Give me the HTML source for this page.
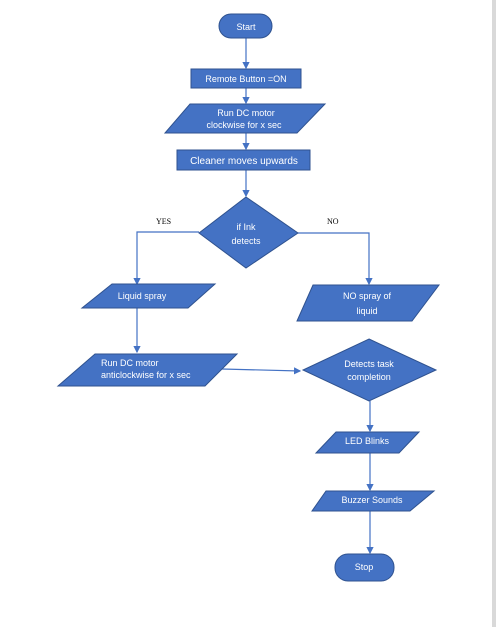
<!DOCTYPE html>
<html><head><style>html,body{margin:0;padding:0;background:#fff;width:496px;height:627px;overflow:hidden}</style></head>
<body>
<svg width="496" height="627" viewBox="0 0 496 627" xmlns="http://www.w3.org/2000/svg" font-family="Liberation Sans, sans-serif">
<defs><marker id="a" markerWidth="6" markerHeight="6" refX="5" refY="3" orient="auto"><path d="M0,0 L6,3 L0,6 z" fill="#4472C4"/></marker></defs>
<rect x="492" y="0" width="4" height="627" fill="#d9d9d9"/>
<g stroke="#4472C4" stroke-width="1.2" fill="none" marker-end="url(#a)">
<line x1="246" y1="38" x2="246" y2="68"/>
<line x1="246" y1="88" x2="246" y2="103"/>
<line x1="246" y1="133" x2="246" y2="149"/>
<line x1="246" y1="170" x2="246" y2="196"/>
<polyline points="199,232 137,232 137,284"/>
<polyline points="298,233 369,233 369,284"/>
<line x1="137" y1="308" x2="137" y2="352"/>
<line x1="222" y1="369" x2="300" y2="371"/>
<line x1="370" y1="401" x2="370" y2="431"/>
<line x1="370" y1="453" x2="370" y2="490"/>
<line x1="370" y1="511" x2="370" y2="553"/>
</g>
<g fill="#4472C4" stroke="#2F528F" stroke-width="1">
<rect x="219" y="14" width="53" height="24" rx="12"/>
<rect x="191" y="69" width="110" height="19"/>
<polygon points="190,104 325,104 297,133 165,133"/>
<rect x="177" y="150" width="133" height="20"/>
<polygon points="246,197 298,233 246,268 199,233"/>
<polygon points="112,284 215,284 188,308 82,308"/>
<polygon points="313,285 439,285 412,321 297,321"/>
<polygon points="95,354 237,354 205,386 58,386"/>
<polygon points="369,339 436,370 369,401 303,370"/>
<polygon points="336,432 419,432 399,453 316,453"/>
<polygon points="326,491 434,491 410,511 312,511"/>
<rect x="335" y="554" width="59" height="27" rx="13"/>
</g>
<g fill="#fff" font-size="9" text-anchor="middle">
<text x="246" y="30">Start</text>
<text x="246" y="82">Remote Button =ON</text>
<text x="246" y="116">Run DC motor</text>
<text x="244" y="128">clockwise for  x  sec</text>
<text x="244" y="164" font-size="10">Cleaner moves upwards</text>
<text x="246" y="230">if Ink</text>
<text x="246" y="244">detects</text>
<text x="142" y="299">Liquid spray</text>
<text x="367" y="299">NO spray of</text>
<text x="367" y="314">liquid</text>
<text x="101" y="366" text-anchor="start">Run DC motor</text>
<text x="101" y="378" text-anchor="start">anticlockwise for  x  sec</text>
<text x="369" y="367">Detects task</text>
<text x="369" y="380">completion</text>
<text x="367" y="444">LED Blinks</text>
<text x="372" y="503">Buzzer Sounds</text>
<text x="364" y="570">Stop</text>
</g>
<g fill="#000" font-size="8" font-family="Liberation Serif, serif">
<text x="156" y="224">YES</text>
<text x="327" y="224">NO</text>
</g>
</svg>
</body></html>
